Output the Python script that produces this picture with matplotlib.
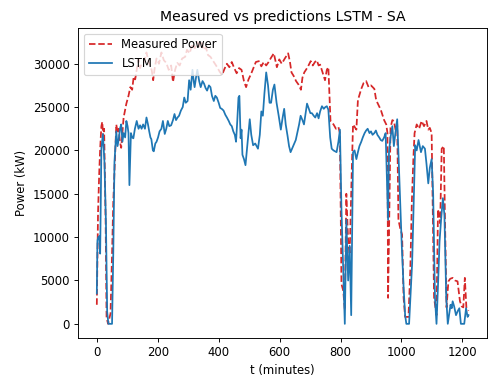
import matplotlib
matplotlib.use("Agg")
import matplotlib.pyplot as plt

title = "Measured vs predictions LSTM - SA"
xlabel = "t (minutes)"
ylabel = "Power (kW)"

meas_t = [0, 4, 8, 11, 15, 18, 21, 24, 29, 32, 37, 45, 50, 54, 58, 64, 68, 72, 76, 80, 84, 88, 97, 104, 110, 116,
          121, 126, 131, 137, 142, 147, 155, 163, 170, 175, 180, 185, 190, 196, 204, 212, 220, 228, 236, 244, 250,
          257, 264, 272, 280, 290, 296, 305, 313, 322, 330, 338, 345, 351, 358, 365, 373, 384, 395, 403, 411, 419,
          427, 435, 443, 451, 459, 467, 475, 483, 490, 498, 506, 514, 522, 532, 540, 548, 556, 564, 572, 581, 591,
          599, 607, 617, 628, 634, 639, 646, 654, 662, 670, 675, 681, 692, 702, 709, 716, 722, 728, 733, 741, 749,
          755, 760, 764, 767, 777, 785, 793, 798, 803, 809, 814, 819, 825, 830, 836, 841, 852, 857, 863, 868, 876,
          884, 892, 900, 911, 916, 921, 932, 943, 950, 954, 956, 959, 964, 970, 975, 981, 986, 990, 996, 1002, 1007,
          1012, 1023, 1029, 1034, 1039, 1043, 1050, 1058, 1066, 1074, 1082, 1088, 1093, 1099, 1104, 1107, 1115,
          1120, 1127, 1132, 1139, 1143, 1148, 1154, 1160, 1168, 1176, 1184, 1192, 1198, 1203, 1208, 1213, 1220]
meas_v = [2200, 12800, 17500, 20200, 22800, 23300, 21500, 22500, 11600, 700, 0, 1200, 8000, 14000, 17500, 23000,
          22000, 22500, 21000, 20300, 22000, 23800, 25400, 26300, 27300, 27000, 28500, 28200, 29300, 30500, 29500,
          30000, 30200, 31300, 30200, 29800, 29300, 28100, 29500, 30600, 30000, 31300, 30400, 30100, 29300, 29800,
          27900, 29300, 30100, 29800, 30600, 30800, 31600, 31200, 32300, 31800, 32500, 32000, 32400, 31600, 31900,
          31000, 30800, 30200, 29600, 29100, 28700, 29400, 30000, 29600, 30200, 29500, 28900, 29500, 29300, 28000,
          27300, 28200, 28800, 29500, 30200, 30300, 29700, 30200, 29800, 30200, 30700, 31200, 29600, 30500, 30000,
          30600, 31200, 30200, 29000, 28600, 28000, 27600, 27000, 28400, 29000, 29600, 30300, 29800, 30200, 30400,
          29800, 29900, 29000, 28100, 29300, 29600, 26000, 23400, 23000, 22500, 22700, 22000, 4600, 3800, 1600,
          15000, 9600, 8000, 16500, 23000, 22400, 25800, 26500, 27100, 27800, 28000, 27300, 27500, 27100, 26000,
          25500, 24700, 23500, 23000, 22000, 3000, 10000, 22600, 23500, 23400, 22300, 23000, 12000, 11000, 10300,
          3000, 800, 800, 6200, 14000, 19000, 22000, 23000, 22500, 23400, 22800, 23400, 22400, 22600, 22000, 10000,
          3000, 1000, 13200, 11600, 20200, 20500, 11600, 1900, 4900, 5200, 5300, 5000, 4900, 2600, 2000, 1900, 5300,
          1900, 1500]

lstm_t = [0, 2, 5, 8, 11, 15, 20, 25, 30, 34, 38, 50, 54, 58, 64, 68, 72, 76, 80, 84, 88, 93, 97, 101, 104, 107,
          112, 116, 120, 125, 131, 137, 142, 147, 152, 158, 163, 168, 172, 176, 179, 184, 187, 192, 196, 201, 206,
          212, 217, 223, 228, 233, 238, 244, 250, 255, 260, 265, 270, 276, 282, 287, 292, 298, 303, 308, 314, 318,
          321, 326, 330, 336, 341, 347, 352, 357, 362, 368, 373, 378, 384, 389, 394, 400, 405, 410, 416, 422, 427,
          433, 438, 443, 448, 453, 457, 461, 465, 468, 472, 475, 478, 483, 488, 495, 502, 507, 513, 520, 529, 535,
          540, 545, 550, 556, 562, 567, 572, 578, 583, 590, 597, 604, 610, 615, 620, 626, 631, 636, 642, 648, 653,
          659, 664, 669, 675, 680, 685, 690, 696, 701, 706, 712, 717, 723, 728, 733, 739, 745, 750, 755, 760, 766,
          771, 777, 782, 787, 793, 798, 803, 809, 814, 819, 825, 830, 835, 841, 846, 852, 857, 862, 868, 873, 879,
          884, 889, 895, 900, 905, 911, 916, 921, 927, 932, 937, 943, 948, 952, 956, 959, 964, 970, 975, 980, 986,
          991, 996, 1001, 1007, 1012, 1016, 1025, 1030, 1035, 1040, 1045, 1050, 1056, 1060, 1064, 1070, 1077, 1082,
          1088, 1093, 1099, 1104, 1110, 1115, 1120, 1125, 1130, 1136, 1141, 1147, 1152, 1156, 1161, 1165, 1168,
          1173, 1179, 1185, 1190, 1195, 1206, 1212, 1217, 1220]
lstm_v = [3500, 9600, 10000, 10100, 8100, 20200, 21900, 18700, 11600, 1400, 0, 0, 8000, 18700, 22200, 20500, 21300,
          22500, 23000, 21000, 22000, 21500, 23400, 22800, 22000, 16000, 22000, 21500, 21400, 22500, 23400, 22500,
          22900, 22500, 23000, 22500, 23800, 23000, 22200, 21500, 21300, 20000, 19900, 20800, 21000, 21500, 22200,
          22500, 23400, 21900, 22500, 23400, 22800, 22900, 23500, 24200, 23500, 23800, 24000, 24600, 25000, 26100,
          25500, 25700, 28100, 27000, 29300, 28000, 27300, 28500, 29300, 28000, 27300, 28000, 27700, 27200, 26900,
          27500, 27300, 26300, 25700, 26300, 26100, 25500, 24900, 24800, 24600, 24100, 23800, 23400, 23000, 22800,
          22200, 21800, 21000, 23400, 26100, 26300, 21400, 22400, 19500, 19000, 18300, 21000, 23600, 21800, 20600,
          20800, 20200, 21800, 24500, 24000, 26500, 29000, 27500, 25500, 25500, 27000, 27600, 25500, 24000, 22400,
          23800, 24800, 23000, 21700, 20500, 19800, 20300, 20800, 21200, 22200, 23000, 24000, 23500, 23000, 24200,
          25400, 24800, 24300, 24300, 24000, 23800, 24300, 23700, 24500, 25100, 24800, 25000, 25100, 24700, 21500,
          20200, 20000, 19900, 19800, 21000, 22400, 13200, 5800, 0, 12000, 5000, 9000, 1000, 19800, 20000, 19000,
          19800, 20500, 21000, 21500, 22000, 22300, 22500, 22000, 22200, 21800, 22000, 22300, 21800, 21500, 21200,
          21100, 21500, 22000, 17000, 12000, 19800, 21500, 22800, 20500, 22000, 23600, 18800, 14200, 9000, 4200,
          1000, 0, 0, 3500, 7000, 14000, 20600, 20000, 21200, 20500, 19800, 20500, 20200, 18500, 16200, 18000, 19000,
          15000, 3000, 0, 4500, 9500, 12000, 14500, 12500, 3000, 0, 1000, 2200, 1800, 2600, 2000, 1000, 1500, 1800,
          0, 0, 1800, 800, 1000]

fig, ax = plt.subplots(figsize=(492 / 84, 378 / 84), dpi=84)
ax.plot(meas_t, meas_v, color="#d62728", linestyle="--", linewidth=1.5, label="Measured Power")
ax.plot(lstm_t, lstm_v, color="#1f77b4", linewidth=1.5, label="LSTM")
ax.set_title(title)
ax.set_xlabel(xlabel)
ax.set_ylabel(ylabel)
ax.legend(loc="upper left")
fig.subplots_adjust(left=0.159, right=0.99, top=0.926, bottom=0.106)
fig.savefig("out.png", dpi=84)
